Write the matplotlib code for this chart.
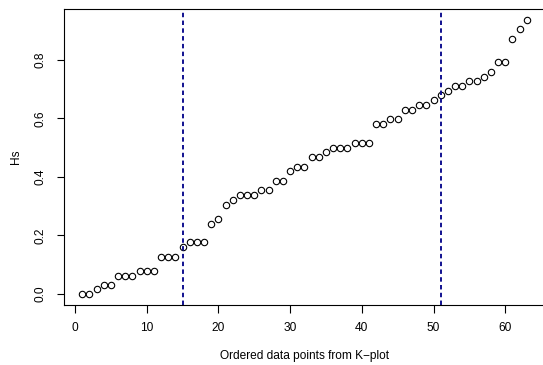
import numpy as np
import matplotlib
matplotlib.use("Agg")
import matplotlib.pyplot as plt

plt.rcParams['font.family'] = ['Liberation Sans', 'DejaVu Sans']
plt.rcParams['lines.scale_dashes'] = False

# Hs values of the ordered data points
hs = [0.000, 0.000, 0.016, 0.031, 0.031, 0.063, 0.063, 0.063, 0.079, 0.079,
      0.079, 0.128, 0.128, 0.128, 0.160, 0.177, 0.177, 0.177, 0.240, 0.256,
      0.305, 0.321, 0.338, 0.338, 0.338, 0.354, 0.354, 0.386, 0.386, 0.419,
      0.435, 0.435, 0.467, 0.467, 0.484, 0.500, 0.500, 0.500, 0.517, 0.517,
      0.517, 0.581, 0.581, 0.597, 0.597, 0.630, 0.630, 0.645, 0.645, 0.663,
      0.680, 0.695, 0.711, 0.711, 0.728, 0.728, 0.743, 0.760, 0.792, 0.792,
      0.873, 0.905, 0.937]
idx = np.arange(1, len(hs) + 1)
cut_points = [15, 51]
x_ticks = [0, 10, 20, 30, 40, 50, 60]
y_ticks = [0.0, 0.2, 0.4, 0.6, 0.8]

W, H = 543, 365
fig = plt.figure(figsize=(W / 100, H / 100), dpi=100)
# R-like plot region (right edge runs just past the image)
ax = fig.add_axes([64.4 / W, (H - 305) / H, (544.5 - 64.4) / W, (305 - 8.8) / H])

ax.plot(idx, hs, linestyle='none', marker='o', markersize=4.6,
        markerfacecolor='none', markeredgecolor='black', markeredgewidth=0.8)
for c in cut_points:
    ax.axvline(c, color='#10108f', linewidth=1.4, linestyle=(0, (3.2, 2.4)))

xr = idx.max() - idx.min()
ax.set_xlim(idx.min() - 0.04 * xr, idx.max() + 0.04 * xr)
yr = max(hs) - min(hs)
ax.set_ylim(min(hs) - 0.04 * yr, max(hs) + 0.04 * yr)

fs = 8.6
ax.set_xticks(x_ticks)
ax.set_yticks(y_ticks)
ax.set_yticklabels([f"{v:.1f}" for v in y_ticks], rotation=90, va='center')
ax.tick_params(axis='both', length=5.4, width=0.8, labelsize=fs, color='black')
ax.tick_params(axis='x', pad=7.0)
ax.tick_params(axis='y', pad=7.8)
for s in ax.spines.values():
    s.set_linewidth(0.8)

ax.set_xlabel("Ordered data points from K\u2212plot", fontsize=fs)
ax.set_ylabel("Hs", fontsize=fs)
ax.xaxis.set_label_coords(0.5, -0.172)
ax.xaxis.label.set_va('center')
ax.yaxis.set_label_coords(-0.1008, 0.5)
ax.yaxis.label.set_va('center')

fig.savefig("out.png", dpi=100)
